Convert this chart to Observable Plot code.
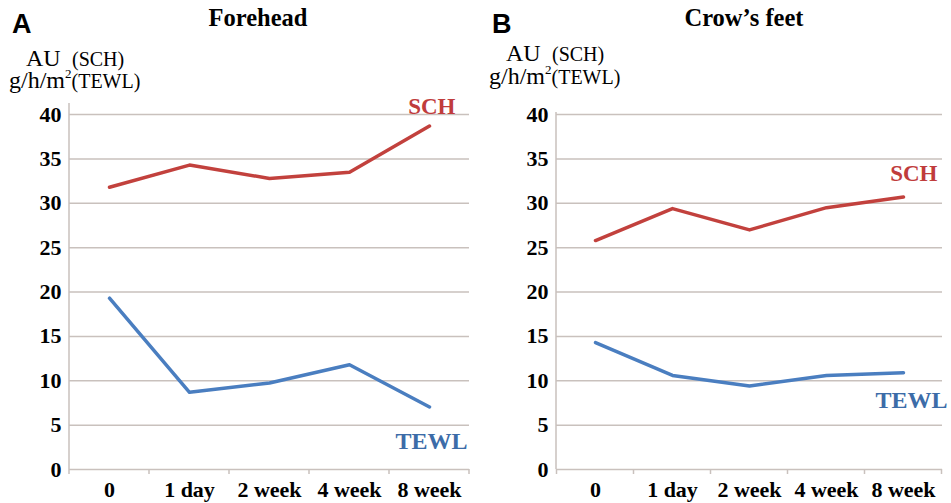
<!DOCTYPE html>
<html><head><meta charset="utf-8">
<script src="https://cdn.jsdelivr.net/npm/d3@7"></script>
<script src="https://cdn.jsdelivr.net/npm/@observablehq/plot@0.6"></script>
<style>
body{margin:0;background:#fff}
#fig{position:relative;width:951px;height:503px;overflow:hidden;background:#fff}
.panel{position:absolute;top:0}
#overlay{position:absolute;left:0;top:0}
#fig text, #fig tspan{font-family:"Liberation Serif",serif !important}
#fig text.sans{font-family:"Liberation Sans",sans-serif !important}
</style></head><body><div id="fig"></div>
<script>
const categories = ["0", "1 day", "2 week", "4 week", "8 week"];
const yTicks = [0, 5, 10, 15, 20, 25, 30, 35, 40];
const foreheadSCH = [31.8, 34.3, 32.8, 33.5, 38.7];
const foreheadTEWL = [19.3, 8.7, 9.75, 11.8, 7.05];
const crowSCH = [25.8, 29.4, 27.0, 29.5, 30.7];
const crowTEWL = [14.3, 10.6, 9.4, 10.6, 10.9];
const panelTitles = ["Forehead", "Crow\u2019s feet"];
const panelLetters = ["A", "B"];

const gridColor = "#c9c1bd";
const redLine = "#c2413d";
const blueLine = "#4a7ec0";
const redText = "#c03c3c";
const blueText = "#3c6ca8";
const serif = "Liberation Serif";

function panel({sch, tewl, width, marginLeft, marginRight, marginTop, axisExtend, schPos, tewlPos}) {
  const schRows = categories.map((c, i) => ({cat: c, value: sch[i]}));
  const tewlRows = categories.map((c, i) => ({cat: c, value: tewl[i]}));
  const frameMarks = (index, scales, values, dims) => {
    const g = d3.create("svg:g");
    const x = scales.x;
    const pos = categories.map(c => x(c));
    const step = pos[1] - pos[0];
    const bounds = pos.map(p => p - step / 2).concat(pos[pos.length - 1] + step / 2);
    const y0 = dims.height - dims.marginBottom;
    g.selectAll("line.t").data(bounds).join("line")
      .attr("x1", d => d).attr("x2", d => d)
      .attr("y1", y0).attr("y2", y0 + 5)
      .attr("stroke", gridColor).attr("stroke-width", 1.5);
    g.append("line")
      .attr("x1", dims.marginLeft).attr("x2", dims.marginLeft)
      .attr("y1", dims.marginTop - axisExtend).attr("y2", y0)
      .attr("stroke", gridColor).attr("stroke-width", 1.5);
    return g.node();
  };
  return Plot.plot({
    width, height: 503,
    marginLeft, marginRight, marginTop, marginBottom: 34,
    x: {type: "point", domain: categories, padding: 0.5, label: null},
    y: {domain: [0, 40], label: null},
    style: {fontFamily: serif, fontWeight: "bold", fontSize: "20px", color: "#000", background: "transparent", overflow: "visible"},
    marks: [
      Plot.gridY(yTicks, {stroke: gridColor, strokeOpacity: 1, strokeWidth: 1.5}),
      frameMarks,
      Plot.axisY(yTicks, {tickSize: 0, tickPadding: 8, fontSize: 22, fontWeight: "bold", fontFamily: serif, label: null}),
      Plot.axisX({tickSize: 0, tickPadding: 12, fontSize: 22, fontWeight: "bold", fontFamily: serif, label: null}),
      Plot.line(schRows, {x: "cat", y: "value", stroke: redLine, strokeWidth: 3.5}),
      Plot.line(tewlRows, {x: "cat", y: "value", stroke: blueLine, strokeWidth: 3.5}),
      Plot.text(["SCH"], {text: d => d, frameAnchor: schPos.anchor, dx: schPos.dx, dy: schPos.dy, textAnchor: "end", lineAnchor: "bottom", fill: redText, fontSize: 23, fontWeight: "bold", fontFamily: serif}),
      Plot.text(["TEWL"], {text: d => d, frameAnchor: tewlPos.anchor, dx: tewlPos.dx, dy: tewlPos.dy, textAnchor: "end", lineAnchor: "bottom", fill: blueText, fontSize: 24, fontWeight: "bold", fontFamily: serif})
    ]
  });
}

const fig = document.getElementById("fig");
const a = panel({sch: foreheadSCH, tewl: foreheadTEWL, width: 475, marginLeft: 69, marginRight: 6, marginTop: 114, axisExtend: 11,
  schPos: {anchor: "top-right", dx: -14, dy: -1}, tewlPos: {anchor: "bottom-right", dx: -2, dy: -21}});
a.classList.add("panel"); a.style.left = "0px";
fig.appendChild(a);
const b = panel({sch: crowSCH, tewl: crowTEWL, width: 471, marginLeft: 76, marginRight: 9, marginTop: 114, axisExtend: 2,
  schPos: {anchor: "top-right", dx: -5, dy: 66}, tewlPos: {anchor: "bottom-right", dx: 5, dy: -62}});
b.classList.add("panel"); b.style.left = "480px";
fig.appendChild(b);

// headings overlay
const ov = d3.select(fig).append("svg").attr("id", "overlay").attr("width", 951).attr("height", 100)
  .style("pointer-events", "none");
const offsets = [0, 480];
const yLabelBase = [[66, 88], [61, 84]];
offsets.forEach((ox, i) => {
  ov.append("text").attr("class", "sans").attr("x", ox + 12).attr("y", 33).text(panelLetters[i])
    .attr("font-weight", "bold").attr("font-size", 27);
  ov.append("text").attr("x", ox + (i === 0 ? 258 : 264)).attr("y", 26).attr("text-anchor", "middle").text(panelTitles[i])
    .attr("font-weight", "bold").attr("font-size", 24.5);
  ov.append("text").attr("x", ox + 26).attr("y", yLabelBase[i][0]).attr("font-size", 24).text("AU");
  ov.append("text").attr("x", ox + 72).attr("y", yLabelBase[i][0]).attr("font-size", 20).text("(SCH)");
  const t2 = ov.append("text").attr("x", ox + 9).attr("y", yLabelBase[i][1]);
  t2.append("tspan").attr("font-size", 24).text("g/h/m");
  t2.append("tspan").attr("font-size", 13).attr("dy", -10).text("2");
  t2.append("tspan").attr("font-size", 20).attr("dy", 10).text("(TEWL)");
});
</script></body></html>
